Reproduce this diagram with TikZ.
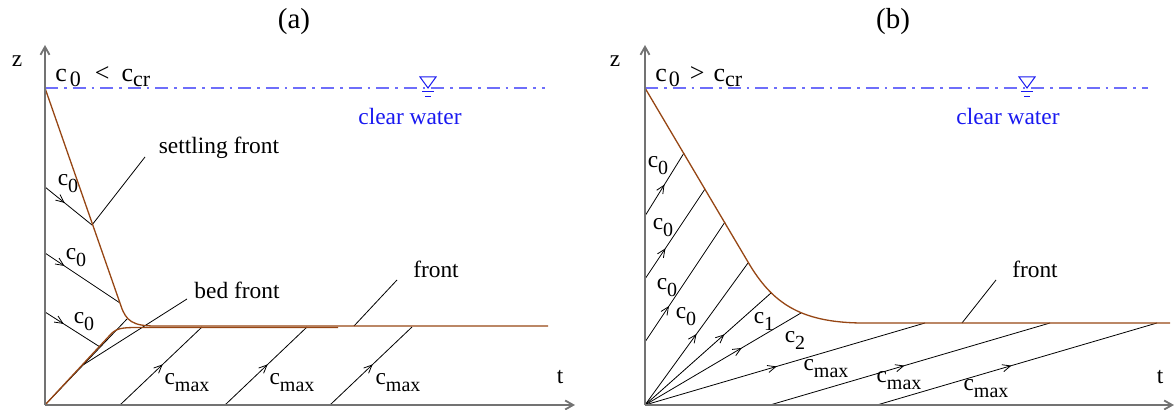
\documentclass[tikz,border=0pt]{standalone}
\usepackage{fontspec}
\setmainfont{Liberation Serif}
\usetikzlibrary{arrows.meta,decorations.markings}
\definecolor{frontc}{RGB}{150,70,20}
\definecolor{waterc}{RGB}{110,110,250}
\definecolor{textblue}{RGB}{25,25,240}
\definecolor{axisc}{RGB}{115,115,115}
\newcommand\lsub[1]{\raisebox{-3.5pt}{\fontsize{10}{10}\selectfont #1}}
\newcommand\tsub[1]{\raisebox{-2.5pt}{\fontsize{11}{11}\selectfont #1}}
\begin{document}
\begin{tikzpicture}[x=0.5pt,y=-0.5pt,
  lbl/.style={font=\fontsize{11.7}{14}\selectfont, inner sep=0pt},
  toplbl/.style={font=\fontsize{13}{15}\selectfont, inner sep=0pt, anchor=base west},
  ttl/.style={font=\fontsize{14.5}{17}\selectfont, inner sep=0pt},
  bluelbl/.style={lbl, text=textblue},
  axis/.style={draw=axisc, line width=0.9pt, -{Straight Barb[length=4pt,width=4.5pt]}},
  frontline/.style={draw=frontc, line width=0.65pt},
  charline/.style={draw=black, line width=0.4pt},
  marr/.style={postaction={decorate}, decoration={markings, mark=at position #1 with {\arrow{Straight Barb[length=4pt,width=3.6pt]}}}},
  water/.style={draw=waterc, line width=0.6pt, dash pattern=on 6.5pt off 3pt on 1.3pt off 3pt},
  wsym/.style={draw=textblue, line width=0.5pt},
]
\useasboundingbox (0,0) rectangle (1175,410);

% ---------------- panel (a) ----------------
\node[ttl] (ta) at (294,22) {(a)};
\coordinate (Oa) at (45,405);
\coordinate (Za) at (45,45);
\coordinate (Ta) at (575,405);
\node[lbl] (za) at (17,61) {z};
\node[lbl] (tla) at (560,377) {t};
\node[toplbl] (conda) at (55,82) {c\hspace{1.5pt}\tsub{0}\hspace{7pt}<\hspace{6pt}c\tsub{cr}};

% water surface
\coordinate (Wa1) at (45,88);
\coordinate (Wa2) at (545,88);
\draw[water] (Wa1) -- (Wa2);
\draw[wsym] (420,77) -- (436,77) -- (428,88) -- cycle;
\draw[wsym] (422,92) -- (434,92);
\draw[wsym] (425,97) -- (431,97);
\node[bluelbl] (cwa) at (410,117) {clear water};

% characteristics c0
\coordinate (a1s) at (45,187);  \coordinate (a1e) at (92,225);
\coordinate (a2s) at (45,253);  \coordinate (a2e) at (120,303);
\coordinate (a3s) at (45,312);  \coordinate (a3e) at (100,347);
\draw[charline, marr=0.42] (a1s) -- (a1e);
\draw[charline, marr=0.26] (a2s) -- (a2e);
\draw[charline, marr=0.34] (a3s) -- (a3e);
\node[lbl] (la1) at (68,184) {c\lsub{0}};
\node[lbl] (la2) at (76,258) {c\lsub{0}};
\node[lbl] (la3) at (84,322) {c\lsub{0}};

% characteristics cmax
\coordinate (m1s) at (120,405); \coordinate (m1e) at (202,327);
\coordinate (m2s) at (225,405); \coordinate (m2e) at (307,327);
\coordinate (m3s) at (330,405); \coordinate (m3e) at (412,327);
\draw[charline, marr=0.52] (m1s) -- (m1e);
\draw[charline, marr=0.52] (m2s) -- (m2e);
\draw[charline, marr=0.52] (m3s) -- (m3e);
\node[lbl] (lm1) at (187,383) {c\lsub{max}};
\node[lbl] (lm2) at (292,383) {c\lsub{max}};
\node[lbl] (lm3) at (398,383) {c\lsub{max}};

% straight bed-front characteristic
\coordinate (bfe) at (127,319);
\draw[charline] (Oa) -- (bfe);

% leaders
\coordinate (sfl) at (145,157);
\draw[charline] (a1e) -- (sfl);
\node[lbl] (sfa) at (219,148) {settling front};
\coordinate (bfl1) at (83,365);
\coordinate (bfl2) at (187,299);
\draw[charline] (bfl1) -- (bfl2);
\node[lbl] (bfa) at (237,290) {bed front};
\coordinate (fla1) at (354,326);
\coordinate (fla2) at (397,280);
\draw[charline] (fla1) -- (fla2);
\node[lbl] (fra) at (436,269) {front};

% fronts (brown)
\draw[frontline] (Wa1) -- (121,306) .. controls (126,321) and (133,326) .. (155,326) -- (548,326);
\draw[frontline] (Oa) -- (111,334) .. controls (117,328) and (122,327.5) .. (140,327.5) -- (338,327.5);

\draw[axis] (Oa) -- (Za);
\draw[axis] (Oa) -- (Ta);

% ---------------- panel (b) ----------------
\node[ttl] (tb) at (893,22) {(b)};
\coordinate (Ob) at (645,405);
\coordinate (Zb) at (645,45);
\coordinate (Tb) at (1174,405);
\node[lbl] (zb) at (615,61) {z};
\node[lbl] (tlb) at (1160,377) {t};
\node[toplbl] (condb) at (655,82) {c\hspace{1pt}\tsub{0}\hspace{5pt}>\hspace{4.5pt}c\tsub{cr}};

\coordinate (Wb1) at (645,88);
\coordinate (Wb2) at (1148,88);
\draw[water] (Wb1) -- (Wb2);
\draw[wsym] (1019,77) -- (1035,77) -- (1027,88) -- cycle;
\draw[wsym] (1021,92) -- (1033,92);
\draw[wsym] (1024,97) -- (1030,97);
\node[bluelbl] (cwb) at (1008,117) {clear water};

% c0 characteristics
\coordinate (b1s) at (645,216); \coordinate (b1e) at (684,153);
\coordinate (b2s) at (645,279); \coordinate (b2e) at (705,189);
\coordinate (b3s) at (645,342); \coordinate (b3e) at (725,222);
\coordinate (b4e) at (748,263);
\draw[charline, marr=0.5] (b1s) -- (b1e);
\draw[charline, marr=0.34] (b2s) -- (b2e);
\draw[charline, marr=0.3] (b3s) -- (b3e);
\draw[charline, marr=0.5] (Ob) -- (b4e);
\node[lbl] (lb1) at (658,166) {c\lsub{0}};
\node[lbl] (lb2) at (663,228) {c\lsub{0}};
\node[lbl] (lb3) at (667,288) {c\lsub{0}};
\node[lbl] (lb4) at (686,317) {c\lsub{0}};

% fan
\coordinate (c1e) at (771,293);
\coordinate (c2e) at (801,313);
\coordinate (c3e) at (925,323);
\draw[charline, marr=0.63] (Ob) -- (c1e);
\draw[charline, marr=0.62] (Ob) -- (c2e);
\draw[charline, marr=0.47] (Ob) -- (c3e);
\node[lbl] (lc1) at (764,321) {c\lsub{1}};
\node[lbl] (lc2) at (795,340) {c\lsub{2}};
\node[lbl] (lc3) at (826,369) {c\lsub{max}};

% cmax from t axis
\coordinate (n1s) at (770,405); \coordinate (n1e) at (1050,323);
\coordinate (n2s) at (877,405); \coordinate (n2e) at (1157,323);
\draw[charline, marr=0.48] (n1s) -- (n1e);
\draw[charline, marr=0.48] (n2s) -- (n2e);
\node[lbl] (ln1) at (899,381) {c\lsub{max}};
\node[lbl] (ln2) at (986,389) {c\lsub{max}};

% front leader
\coordinate (flb1) at (962,323);
\coordinate (flb2) at (996,280);
\draw[charline] (flb1) -- (flb2);
\node[lbl] (frb) at (1035,269) {front};

% front (brown)
\draw[frontline] (Wb1) -- (748,262) .. controls (772,303) and (800,322) .. (860,323) -- (1170,323);

\draw[axis] (Ob) -- (Zb);
\draw[axis] (Ob) -- (Tb);
\end{tikzpicture}
\end{document}
